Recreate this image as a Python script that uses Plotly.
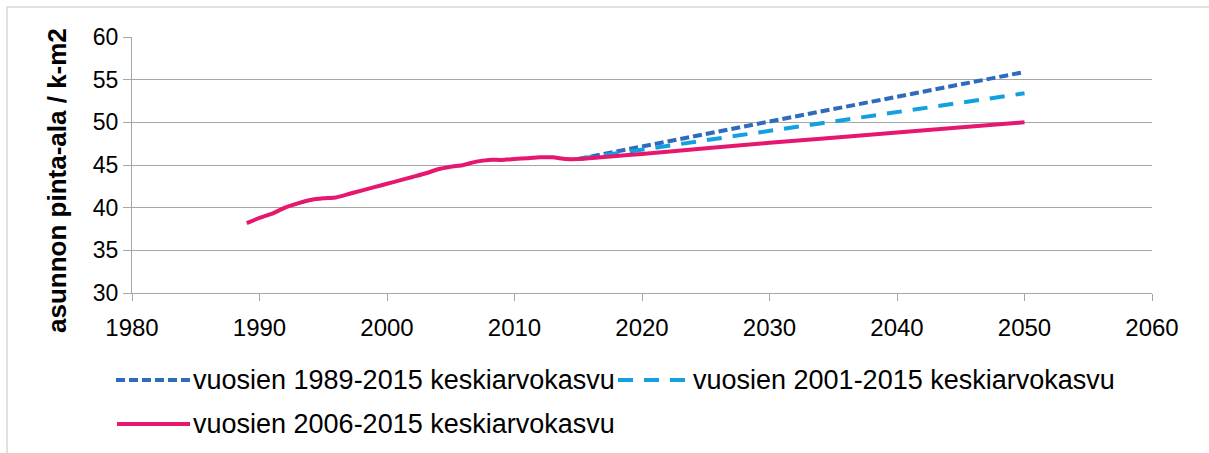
import plotly.graph_objects as go

# Historical data
hist_years = list(range(1989, 2016))
hist_values = [38.2, 38.8, 39.3, 40.0, 40.5, 40.9, 41.1, 41.2, 41.6, 42.0,
               42.4, 42.8, 43.2, 43.6, 44.0, 44.5, 44.8, 45.0, 45.4, 45.6,
               45.6, 45.7, 45.8, 45.9, 45.9, 45.7, 45.7]

# Projections
proj_years = [2015, 2020, 2030, 2040, 2050]
proj_1989 = [45.7, 47.2, 50.1, 53.0, 55.9]
proj_2001 = [45.7, 46.8, 49.0, 51.2, 53.4]
proj_2006 = [45.7, 46.3, 47.6, 48.8, 50.0]

names = ["vuosien 1989-2015 keskiarvokasvu",
         "vuosien 2001-2015 keskiarvokasvu",
         "vuosien 2006-2015 keskiarvokasvu"]
colors = ["#2E6BBF", "#12A0E0", "#E5176E"]
dashes = ["9px,4px", "15px,11px", "solid"]

y_title = "asunnon pinta-ala / k-m2"
x_ticks = list(range(1980, 2070, 10))
y_ticks = list(range(30, 65, 5))

FONT = "Liberation Sans, Arial, sans-serif"
W, H = 1209, 453
L, R, T, B = 132, 1152, 37, 293


def px(x):
    return (x - L) / (R - L)


def py(y):
    return (B - y) / (B - T)


fig = go.Figure()
fig.add_trace(go.Scatter(x=proj_years, y=proj_1989, mode="lines", name=names[0],
                         line=dict(color=colors[0], width=4, dash=dashes[0])))
fig.add_trace(go.Scatter(x=proj_years, y=proj_2001, mode="lines", name=names[1],
                         line=dict(color=colors[1], width=4, dash=dashes[1])))
fig.add_trace(go.Scatter(x=hist_years + proj_years[1:], y=hist_values + proj_2006[1:],
                         mode="lines", name=names[2],
                         line=dict(color=colors[2], width=4, shape="spline", smoothing=0.4)))

# Legend drawn manually (sample lines longer than plotly's native legend samples)
legend_items = [  # (sample x0, sample x1, row y, text x)
    (116, 190, 380, 191),
    (618, 690, 380, 691),
    (117, 190, 424, 191),
]
shapes = [dict(type="rect", xref="paper", yref="paper",
               x0=px(7), x1=px(1216), y0=py(470), y1=py(7),
               line=dict(color="#d9d9d2", width=1.5), fillcolor="rgba(0,0,0,0)",
               layer="below")]
annotations = []
for i, (sx0, sx1, ry, tx) in enumerate(legend_items):
    shapes.append(dict(type="line", xref="paper", yref="paper",
                       x0=px(sx0), x1=px(sx1), y0=py(ry), y1=py(ry),
                       line=dict(color=colors[i], width=4, dash=dashes[i])))
    annotations.append(dict(text=names[i], xref="paper", yref="paper",
                            x=px(tx), y=py(ry), xanchor="left", yanchor="middle",
                            showarrow=False, font=dict(family=FONT, size=27, color="black")))

annotations.append(dict(text="<b>" + y_title + "</b>", xref="paper", yref="paper",
                        x=px(57), y=py(181), xanchor="center", yanchor="middle",
                        textangle=-90, showarrow=False,
                        font=dict(family=FONT, size=26, color="black")))

fig.update_layout(
    width=W, height=H,
    margin=dict(l=L, r=W - R, t=T, b=H - B, autoexpand=False),
    paper_bgcolor="white", plot_bgcolor="white",
    font=dict(family=FONT, size=24, color="black"),
    showlegend=False,
    xaxis=dict(range=[1980, 2060], tickvals=x_ticks, ticks="outside", ticklen=7,
               tickcolor="#a6a6a6", tickwidth=1.3, showline=True, linecolor="#a6a6a6",
               linewidth=1.3, showgrid=False, zeroline=False, ticklabelstandoff=6,
               tickfont=dict(size=24)),
    yaxis=dict(range=[30, 60], tickvals=y_ticks, ticks="outside", ticklen=8,
               tickcolor="#a6a6a6", tickwidth=1.3, showline=True, linecolor="#a6a6a6",
               linewidth=1.3, showgrid=True, gridcolor="#a6a6a6", gridwidth=1.3,
               zeroline=False, tickfont=dict(size=23)),
    shapes=shapes,
    annotations=annotations,
)

fig.write_html("out.html", config={"displayModeBar": False},
               post_script="document.body.style.margin='0';")
